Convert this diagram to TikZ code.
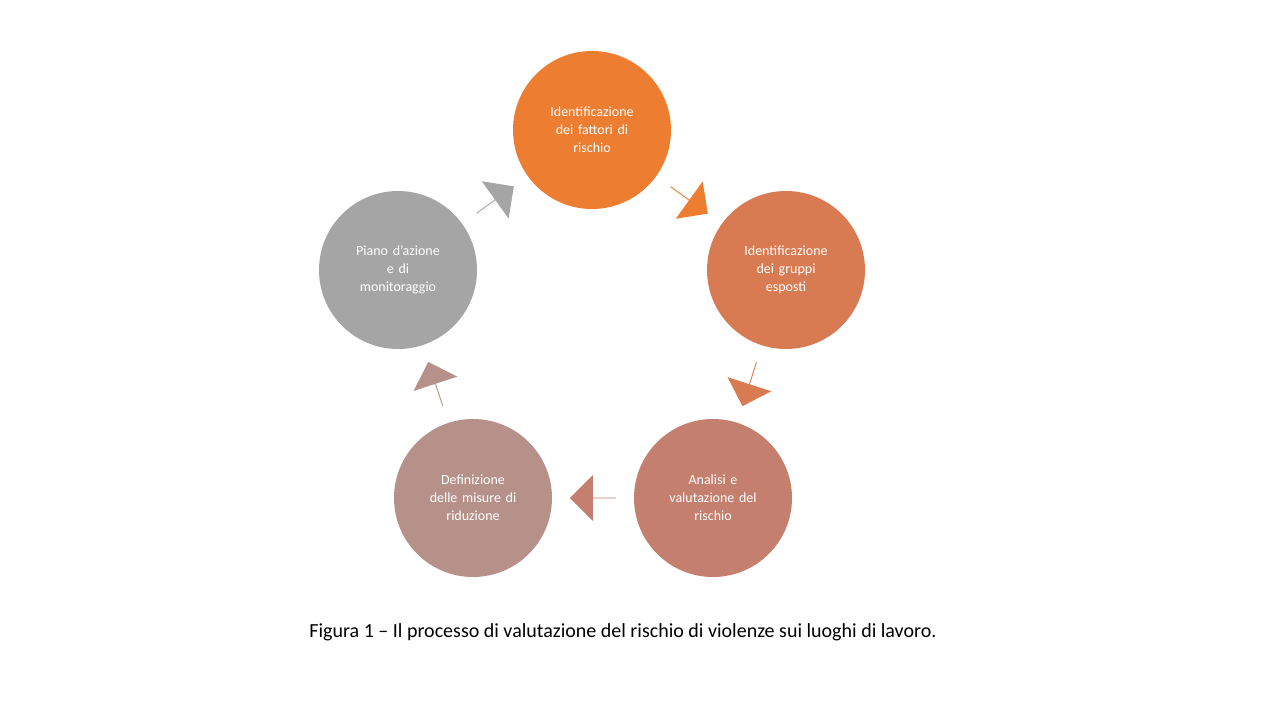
\documentclass[tikz,border=0pt]{standalone}
\usepackage{fontspec}
\setmainfont{Carlito}
\usetikzlibrary{calc,shapes.arrows}
\definecolor{stepA}{HTML}{ED7D31}
\definecolor{stepB}{HTML}{D97B52}
\definecolor{stepC}{HTML}{C47F6E}
\definecolor{stepD}{HTML}{B5918A}
\definecolor{stepE}{HTML}{A5A5A5}

\tikzset{
  phase/.style={circle,fill=#1,minimum size=158pt,inner sep=0pt,
    text=white,align=center,text width=100pt,font=\fontsize{14}{18}\selectfont},
  flow/.style={single arrow,fill=#1,minimum height=46pt,minimum width=46pt,
    single arrow head extend=10pt,inner sep=0pt}
}

\begin{document}
\begin{tikzpicture}[x=1pt,y=-1pt]
\useasboundingbox (0,0) rectangle (1280,720);

\node[phase=stepA] (fattori) at (592,130) {Identificazione\\dei fattori di\\rischio};
\node[phase=stepB] (gruppi) at (786,270) {Identificazione\\dei gruppi\\esposti};
\node[phase=stepC] (analisi) at (713,498) {Analisi e\\valutazione del\\rischio};
\node[phase=stepD] (misure) at (473,498) {Definizione\\delle misure di\\riduzione};
\node[phase=stepE] (piano) at (398,270) {Piano d'azione\\e di\\monitoraggio};

% arrows between the phases
\node[flow=stepA,rotate=-35.8] (f1) at ($(fattori)!0.5!(gruppi)$) {};
\node[flow=stepB,rotate=-107.8] (f2) at ($(gruppi)!0.5!(analisi)$) {};
\node[flow=stepC,rotate=180] (f3) at ($(analisi)!0.5!(misure)$) {};
\node[flow=stepD,rotate=108.2] (f4) at ($(misure)!0.5!(piano)$) {};
\node[flow=stepE,rotate=35.8] (f5) at ($(piano)!0.5!(fattori)$) {};

\node[font=\fontsize{20}{24}\selectfont] (caption) at (623,632)
  {Figura 1 -- Il processo di valutazione del rischio di violenze sui luoghi di lavoro.};

\end{tikzpicture}
\end{document}
